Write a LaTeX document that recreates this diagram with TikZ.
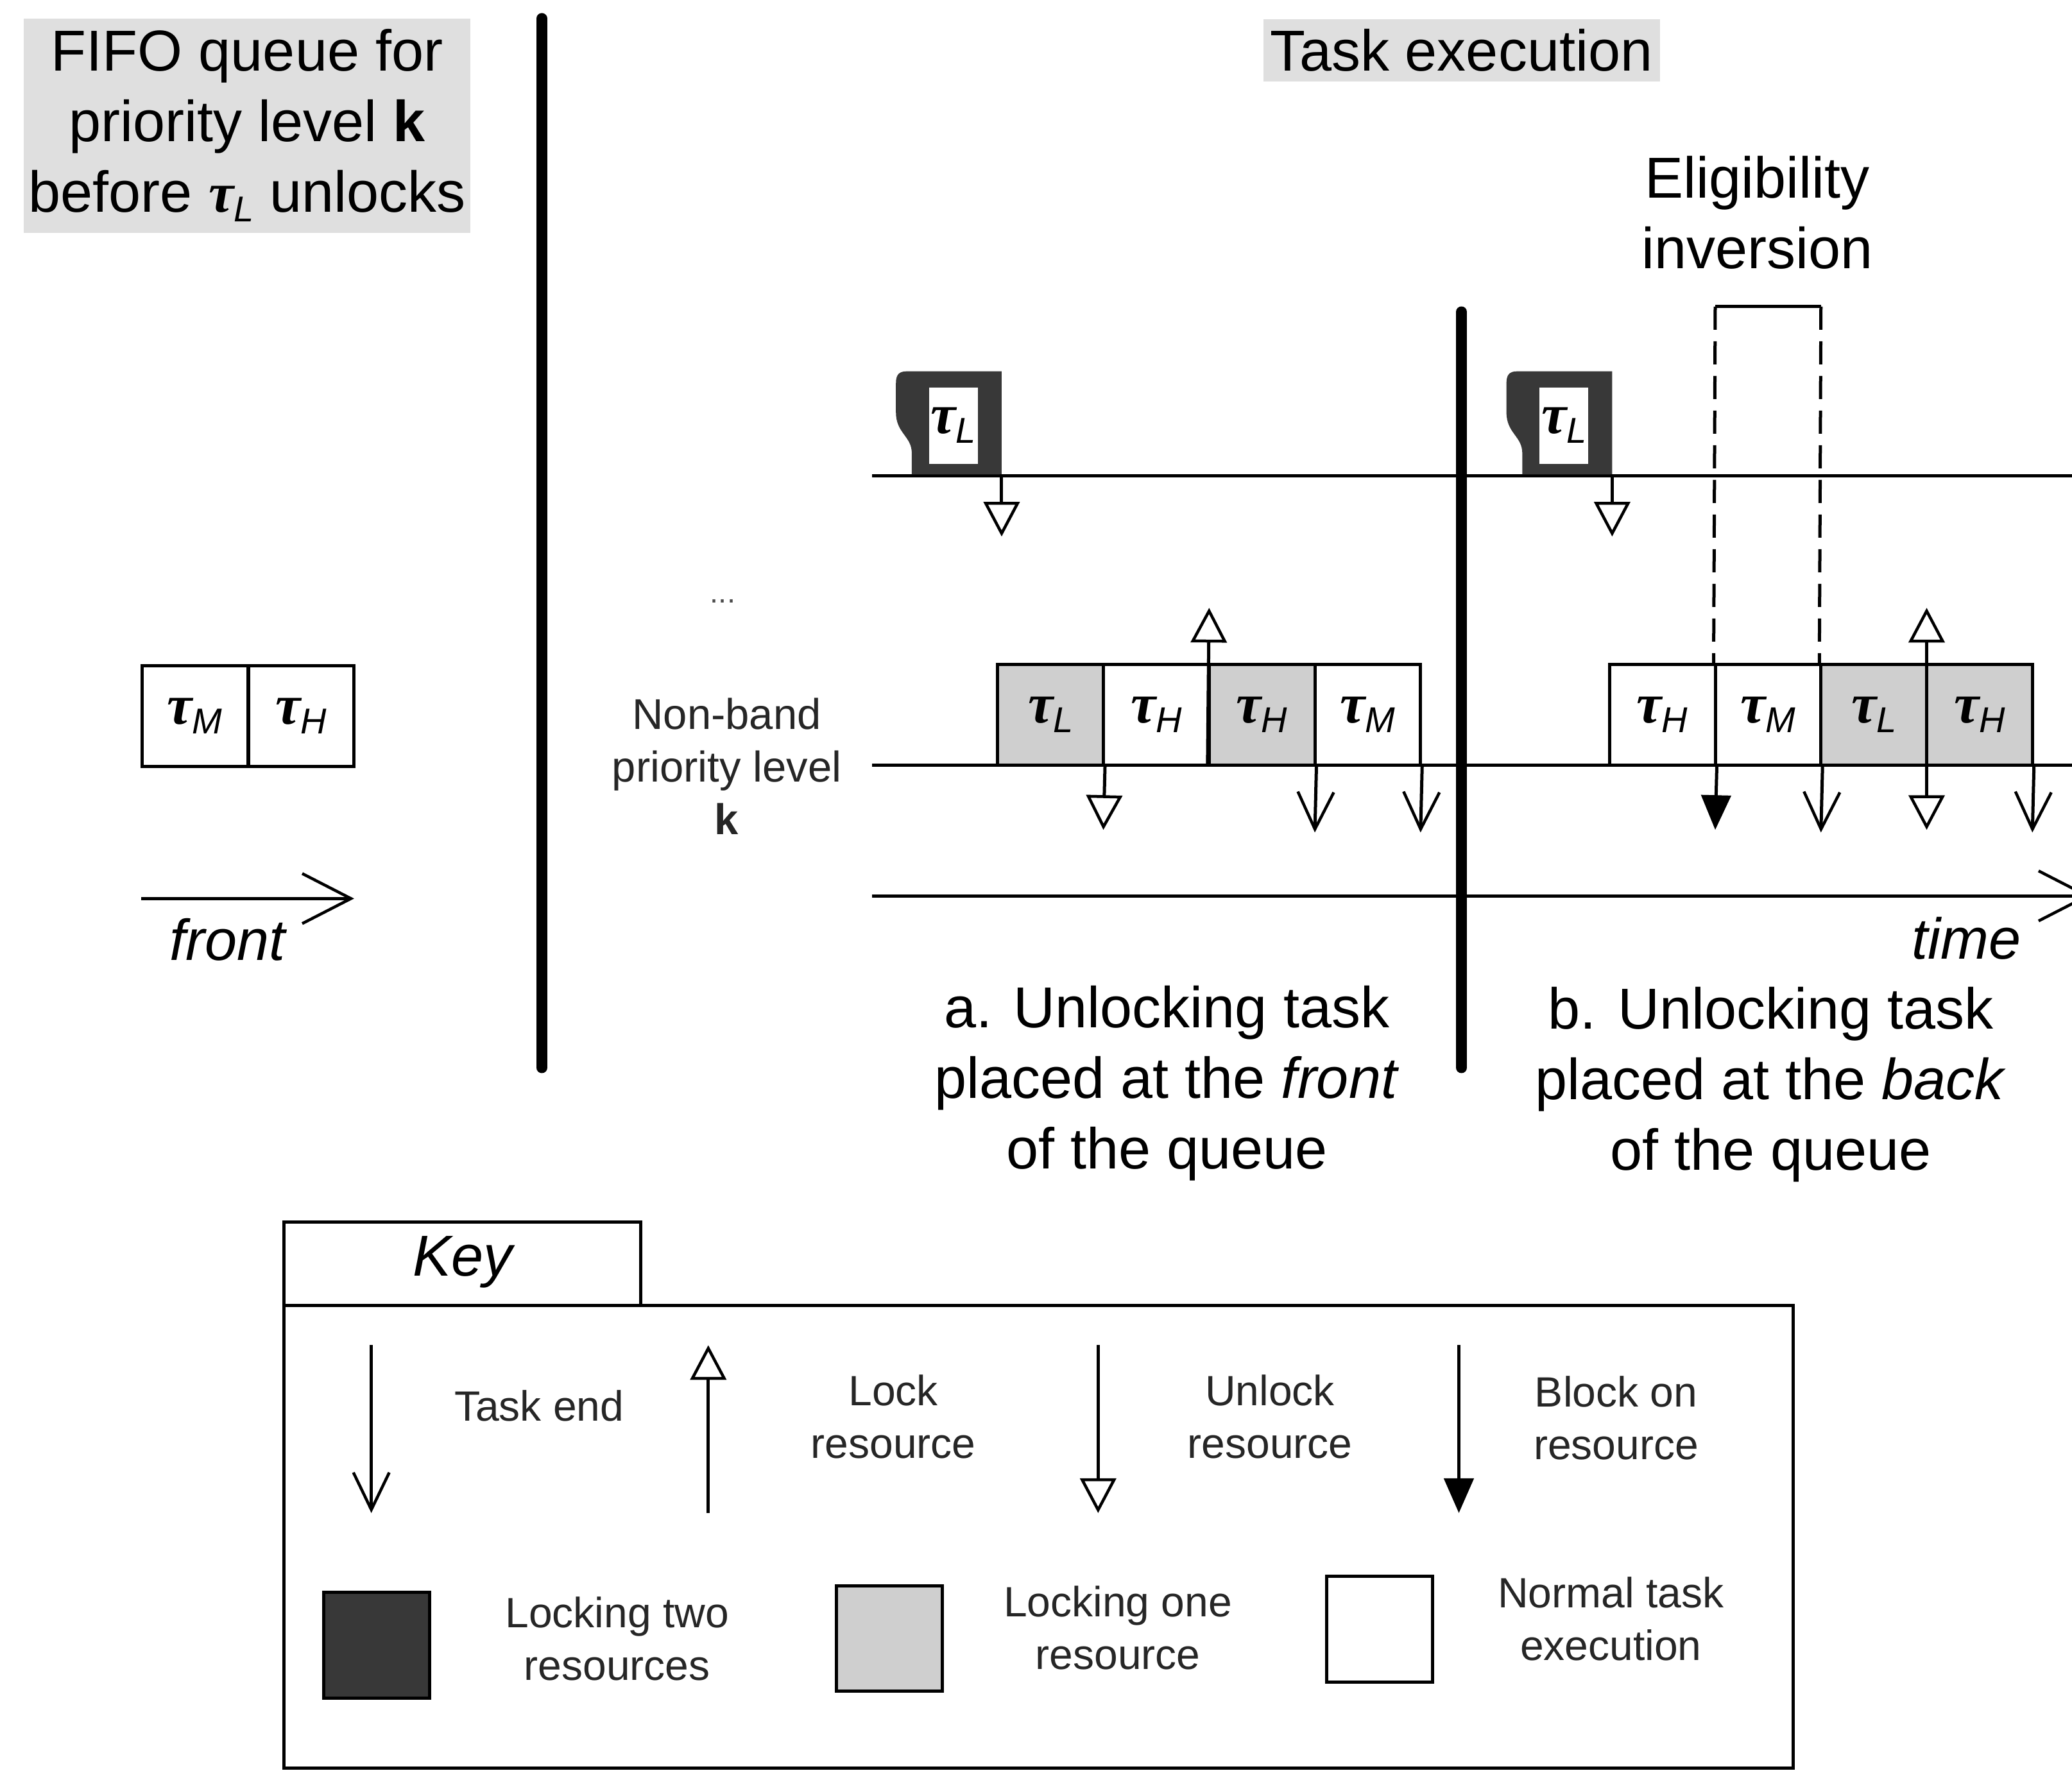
\documentclass[tikz,border=0pt]{standalone}
\usepackage{fontspec}
\setmainfont{Liberation Sans}
\newfontfamily\taufont{Liberation Serif}
\usetikzlibrary{arrows.meta}
\newcommand\tk[1]{{\fontsize{88}{88}\selectfont\taufont\bfseries\itshape τ}\raisebox{-15pt}{\fontsize{56}{56}\selectfont\itshape #1}}
\tikzset{
  thin line/.style={line width=5pt},
  cellbox/.style={draw, thin line, minimum width=164.7pt, minimum height=156.5pt, inner sep=0pt},
  cellw/.style={cellbox, fill=white},
  cellg/.style={cellbox, fill=gray!38},
  bigtext/.style={align=center, font=\fontsize{90}{110}\selectfont, inner sep=0pt},
  keytext/.style={align=center, font=\fontsize{66}{82}\selectfont, text=black!85, inner sep=0pt},
  unlockarr/.style={thin line, -{Triangle[length=54pt, width=56pt, fill=white, line width=4.5pt]}},
  endarr/.style={thin line, -{Straight Barb[length=58pt, width=56pt, line width=4.5pt]}},
  blockarr/.style={thin line, -{Triangle[length=54pt, width=46pt]}},
  bigarr/.style={thin line, -{Straight Barb[length=76pt, width=78pt, line width=4.5pt]}},
  thickbar/.style={line width=17pt, line cap=round},
  darkfill/.style={fill=black!78},
}
\begin{document}
\begin{tikzpicture}[x=2.0593pt, y=-2.0593pt]
\useasboundingbox (0,0) rectangle (1568,1340);
\fill[white] (0,0) rectangle (1568,1340);

% headings
\node[bigtext, fill=gray!25, minimum width=696pt, minimum height=334pt] (fifo) at (187,95)
  {FIFO queue for\\priority level \textbf{k}\\before \tk{L} unlocks};
\node[bigtext, fill=gray!25, minimum width=618pt, minimum height=97pt] (taskexec) at (1106,38) {Task execution};
\node[bigtext] (elig) at (1330,161) {Eligibility\\inversion};

% thick separators
\coordinate (s1t) at (410,14);
\coordinate (s1b) at (410,808);
\coordinate (s2t) at (1106,236);
\coordinate (s2b) at (1106,808);
\draw[thickbar] (s1t) -- (s1b);
\draw[thickbar] (s2t) -- (s2b);

% queue at left
\node[cellw] (q1) at (147.5,542) {\tk{M}};
\node[cellw] (q2) at (228,542) {\tk{H}};
\coordinate (fa) at (107,680);
\coordinate (fb) at (268,680);
\draw[bigarr] (fa) -- (fb);
\node[bigtext, font=\fontsize{90}{110}\selectfont\itshape] (front) at (172,711) {front};

% level labels
\node[inner sep=0pt, font=\fontsize{47}{47}\selectfont, text=black!70] (dots) at (547,455) {...};
\node[align=center, inner sep=0pt, font=\fontsize{67}{82}\selectfont, text=black!85] (nonband) at (550,580)
  {Non-band\\priority level\\\textbf{k}};

% timelines
\coordinate (l1a) at (660,360);
\coordinate (l1b) at (1568,360);
\coordinate (l2a) at (660,579);
\coordinate (l2b) at (1568,579);
\draw[thin line] (l1a) -- (l1b);
\draw[thin line] (l2a) -- (l2b);
\coordinate (ta) at (660,678);
\coordinate (tb) at (1582,678);
\draw[bigarr] (ta) -- (tb);
\node[bigtext, font=\fontsize{90}{110}\selectfont\itshape] (time) at (1488,710) {time};

% dark tau_L boxes on upper line
\foreach \o/\n in {0/1,462/2}{
  \fill[darkfill] ({\o+690},359) -- ({\o+690},343) .. controls ({\o+690},330) and ({\o+678},328) .. ({\o+678},312)
     -- ({\o+678},290) .. controls ({\o+678},284) and ({\o+680},281) .. ({\o+686},281)
     -- ({\o+758},281) -- ({\o+758},359) -- cycle;
  \node[fill=white, inner sep=0pt, minimum width=76pt, minimum height=119pt] (dk\n) at ({\o+721.5},322) {\tk{L}};
  \coordinate (du\n) at ({\o+758},359);
  \coordinate (dt\n) at ({\o+758},406);
  \draw[unlockarr] (du\n) -- (dt\n);
}

% row a
\node[cellg] (a1) at (795,541) {\tk{L}};
\node[cellw] (a2) at (875,541) {\tk{H}};
\node[cellg] (a3) at (955,541) {\tk{H}};
\node[cellw] (a4) at (1035,541) {\tk{M}};
\coordinate (a1u) at (835,628);
\coordinate (a3l) at (915,460);
\coordinate (a3e) at (995,630);
\coordinate (a4e) at (1075,630);
\draw[unlockarr] (a1.south east) -- (a1u);
\draw[unlockarr] (a3.south west) -- (a3l);
\draw[endarr] (a3.south east) -- (a3e);
\draw[endarr] (a4.south east) -- (a4e);

% row b
\node[cellw] (b1) at (1258,541) {\tk{H}};
\node[cellw] (b2) at (1338,541) {\tk{M}};
\node[cellg] (b3) at (1418,541) {\tk{L}};
\node[cellg] (b4) at (1498,541) {\tk{H}};
\coordinate (b1k) at (1298,628);
\coordinate (b2e) at (1378,630);
\coordinate (b3d) at (1458,628);
\coordinate (b3u) at (1458,460);
\coordinate (b4e) at (1538,630);
\draw[blockarr] (b1.south east) -- (b1k);
\draw[endarr] (b2.south east) -- (b2e);
\draw[thin line, {Triangle[length=54pt, width=56pt, fill=white, line width=4.5pt]}-{Triangle[length=54pt, width=56pt, fill=white, line width=4.5pt]}] (b3d) -- (b3u);
\draw[endarr] (b4.south east) -- (b4e);

% eligibility inversion bracket
\coordinate (e1) at (1298,232);
\coordinate (e2) at (1378,232);
\draw[thin line, dash pattern=on 36pt off 18pt] (e1) -- (b2.north west);
\draw[thin line] (e1) -- (e2);
\draw[thin line, dash pattern=on 36pt off 18pt] (e2) -- (b3.north west);

% captions
\node[bigtext] (capa) at (883,820) {a. Unlocking task\\placed at the \textit{front}\\of the queue};
\node[bigtext] (capb) at (1340,821) {b. Unlocking task\\placed at the \textit{back}\\of the queue};

% key
\draw[thin line] (215,988) rectangle (1357,1338);
\node[draw, thin line, fill=white, minimum width=556pt, minimum height=130pt, inner sep=0pt] (keytab) at (350,956.5) {};
\node[inner sep=0pt, font=\fontsize{90}{90}\selectfont\itshape] (keylbl) at (350,955) {Key};

\coordinate (k1a) at (281,1018); \coordinate (k1b) at (281,1145);
\coordinate (k2a) at (536,1145); \coordinate (k2b) at (536,1018);
\coordinate (k3a) at (831,1018); \coordinate (k3b) at (831,1145);
\coordinate (k4a) at (1104,1018); \coordinate (k4b) at (1104,1145);
\draw[endarr] (k1a) -- (k1b);
\draw[unlockarr] (k2a) -- (k2b);
\draw[unlockarr] (k3a) -- (k3b);
\draw[blockarr] (k4a) -- (k4b);
\node[keytext] (lt1) at (408,1064) {Task end};
\node[keytext] (lt2) at (676,1072) {Lock\\resource};
\node[keytext] (lt3) at (961,1072) {Unlock\\resource};
\node[keytext] (lt4) at (1223,1073) {Block on\\resource};

\node[draw, thin line, darkfill, minimum width=164.7pt, minimum height=164.7pt, inner sep=0pt] (sq1) at (285,1245) {};
\node[draw, thin line, fill=gray!38, minimum width=164.7pt, minimum height=164.7pt, inner sep=0pt] (sq2) at (673,1240) {};
\node[draw, thin line, fill=white, minimum width=164.7pt, minimum height=164.7pt, inner sep=0pt] (sq3) at (1044,1233) {};
\node[keytext] (ls1) at (467,1240) {Locking two\\resources};
\node[keytext] (ls2) at (846,1232) {Locking one\\resource};
\node[keytext] (ls3) at (1219,1225) {Normal task\\execution};
\end{tikzpicture}
\end{document}
